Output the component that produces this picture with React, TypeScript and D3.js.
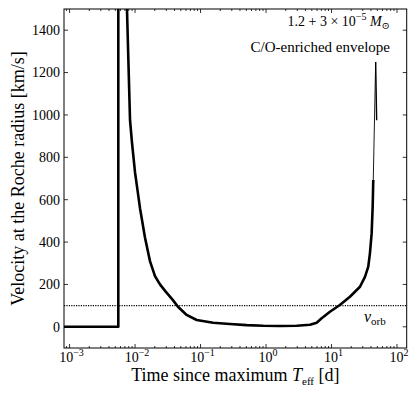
import React from 'react';
import * as d3 from 'd3';

// time since maximum Teff [d] and velocity [km/s]
const riseTime = [0.0008, 0.00555, 0.00555];
const riseVel = [0, 0, 1700];

const decayTime = [0.00745, 0.00838, 0.00897, 0.00998, 0.0119, 0.0142, 0.0169, 0.0201, 0.024, 0.0296, 0.0379, 0.0452, 0.0614, 0.0873, 0.156, 0.281, 0.506, 0.908, 1.63, 2.94, 4.69, 5.93, 7.07, 9.46, 13.4, 19.1, 27.2, 32.4, 36.4, 38.6, 41.0, 42.5, 43.4];
const decayVel = [1550, 975, 870, 730, 560, 420, 310, 240, 200, 165, 126, 95, 56, 32, 19, 13, 8, 5, 4, 5, 10, 19, 40, 71, 103, 142, 189, 236, 284, 347, 441, 567, 693];

const spikeTime = [43.4, 47.2];
const spikeVel = [693, 1250];
const fallTime = [47.2, 48.9];
const fallVel = [1250, 975];

const vOrb = 100;
const yTicks = [0, 200, 400, 600, 800, 1000, 1200, 1400];
const xDecades = [-3, -2, -1, 0, 1, 2];

const W = 415;
const H = 397;
const margin = {left: 64, right: 8.3, top: 9, bottom: 49};
const font = '"Liberation Serif", "DejaVu Serif", serif';

const App = () => {
    const x = d3.scaleLog()
        .domain([10 ** -3.085, 10 ** 2.148])
        .range([margin.left, W - margin.right]);
    const y = d3.scaleLinear()
        .domain([-100, 1500])
        .range([H - margin.bottom, margin.top]);

    const line = d3.line<[number, number]>()
        .x((d) => x(d[0]))
        .y((d) => y(d[1]));
    const pts = (ts: number[], vs: number[]) => ts.map((t, i) => [t, vs[i]] as [number, number]);

    const [x0, x1] = x.range();
    const [y0, y1] = y.range();

    const minor: number[] = [];
    for (let e = -4; e <= 2; e++) {
        for (let k = 2; k <= 9; k++) {
            const v = k * 10 ** e;
            if (v > x.domain()[0] && v < x.domain()[1]) minor.push(v);
        }
    }

    return (
        <svg width={W} height={H} style={{position: 'absolute', left: 0, top: 0, background: '#fff'}}
            fontFamily={font}>
            <defs>
                <clipPath id='plot'>
                    <rect x={x0} y={y1} width={x1 - x0} height={y0 - y1} />
                </clipPath>
            </defs>

            <g clipPath='url(#plot)' fill='none' stroke='#000' strokeLinejoin='round'>
                <line x1={x0} x2={x1} y1={y(vOrb)} y2={y(vOrb)} strokeWidth={1.4} strokeDasharray='1.2,1.2' />
                <path d={line(pts(riseTime, riseVel)) || ''} strokeWidth={2.6} />
                <path d={line(pts(decayTime, decayVel)) || ''} strokeWidth={2.6} />
                <path d={line(pts(spikeTime, spikeVel)) || ''} strokeWidth={0.9} />
                <path d={line(pts(fallTime, fallVel)) || ''} strokeWidth={1.4} />
            </g>

            {/* ticks, pointing inward on all sides */}
            <g stroke='#000' strokeWidth={0.8}>
                {yTicks.map((t) => (
                    <g key={t}>
                        <line x1={x0} x2={x0 + 4} y1={y(t)} y2={y(t)} />
                        <line x1={x1} x2={x1 - 4} y1={y(t)} y2={y(t)} />
                    </g>
                ))}
                {xDecades.map((e) => (
                    <g key={e}>
                        <line x1={x(10 ** e)} x2={x(10 ** e)} y1={y0} y2={y0 - 4} />
                        <line x1={x(10 ** e)} x2={x(10 ** e)} y1={y1} y2={y1 + 4} />
                    </g>
                ))}
                {minor.map((m) => (
                    <g key={m}>
                        <line x1={x(m)} x2={x(m)} y1={y0} y2={y0 - 2} />
                        <line x1={x(m)} x2={x(m)} y1={y1} y2={y1 + 2} />
                    </g>
                ))}
            </g>
            <rect x={x0} y={y1} width={x1 - x0} height={y0 - y1} fill='none' stroke='#000' strokeWidth={1} />

            <g fontSize={14} fill='#000'>
                {yTicks.map((t) => (
                    <text key={t} x={x0 - 4} y={y(t)} dy='0.35em' textAnchor='end'>{t}</text>
                ))}
                {xDecades.map((e) => (
                    <text key={e} x={x(10 ** e) + 2} y={y0 + 14} textAnchor='middle'>
                        10<tspan dy={-6} fontSize={10}>{e < 0 ? '\u2212' + -e : e}</tspan>
                    </text>
                ))}
            </g>

            <text x={(x0 + x1) / 2} y={381} textAnchor='middle' fontSize={18}>
                Time since maximum <tspan fontStyle='italic'>T</tspan>
                <tspan dy={4} fontSize={11}>eff</tspan>
                <tspan dy={-4}> [d]</tspan>
            </text>
            <text transform={`translate(24,${(y0 + y1) / 2}) rotate(-90)`} textAnchor='middle' fontSize={18}>
                Velocity at the Roche radius [km/s]
            </text>

            <text x={390} y={26} textAnchor='end' fontSize={14}>
                1.2 + 3 × 10<tspan dy={-6} fontSize={10}>{'\u2212'}5</tspan>
                <tspan dy={6} fontStyle='italic'> M</tspan>
                <tspan dy={3} fontSize={10}>⊙</tspan>
            </text>
            <text x={390} y={52} textAnchor='end' fontSize={15}>C/O-enriched envelope</text>

            <text x={364} y={y(vOrb) + 16} fontSize={16}>
                <tspan fontStyle='italic'>v</tspan>
                <tspan dy={3} fontSize={11}>orb</tspan>
            </text>
        </svg>
    );
};

export default App;
